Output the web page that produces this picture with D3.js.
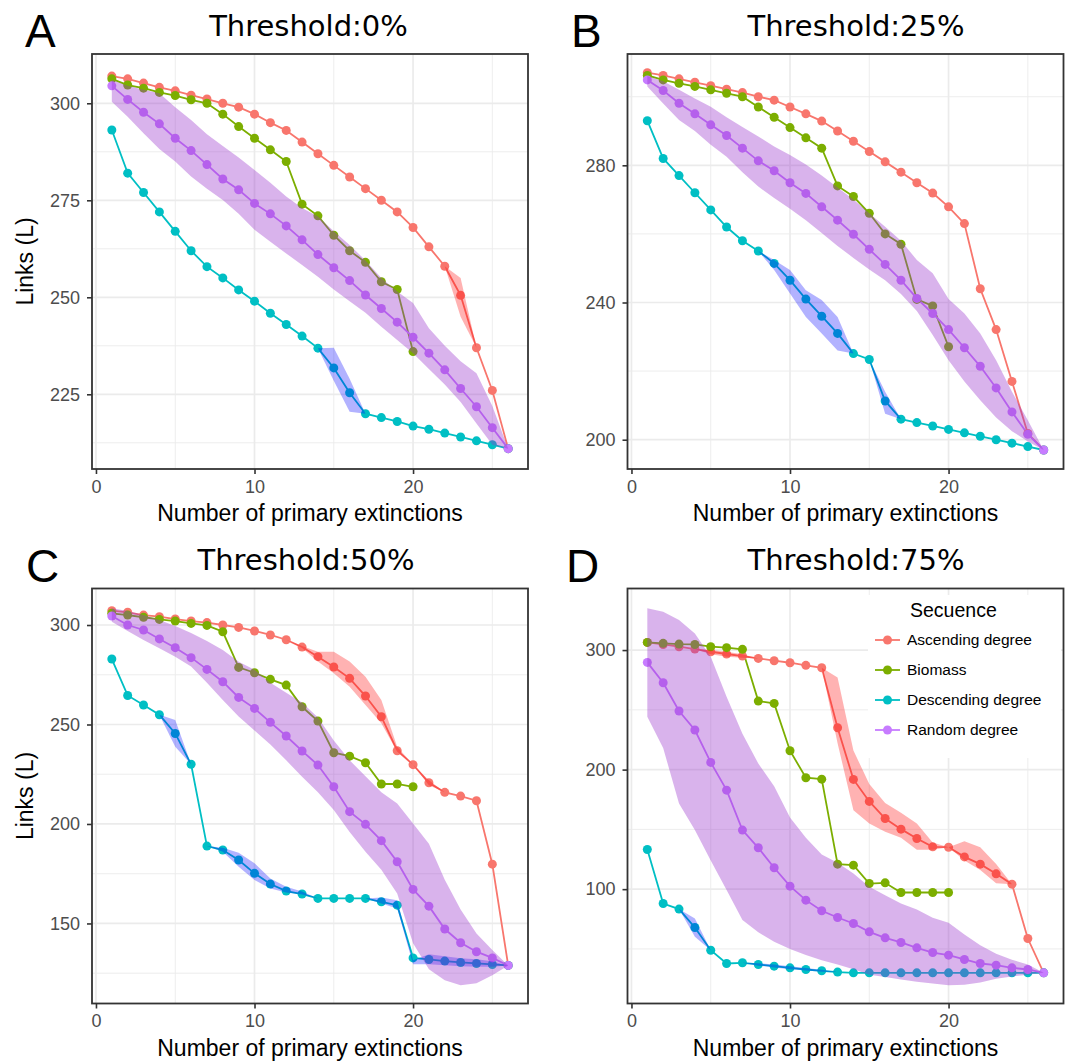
<!DOCTYPE html>
<html><head><meta charset="utf-8">
<script src="https://cdn.jsdelivr.net/npm/d3@7"></script>
<style>body{margin:0;background:#fff}</style>
</head><body>
<svg id="c" width="1073" height="1063"></svg>
<script>
// ---------------- DATA ----------------
const extinctions = [1,2,3,4,5,6,7,8,9,10,11,12,13,14,15,16,17,18,19,20,21,22,23,24,25,26];
const seriesNames = ["Ascending degree","Biomass","Descending degree","Random degree"];
const seriesColors = ["#F8766D","#7CAE00","#00BFC4","#C77CFF"];
const bandColors = ["#FF0000", null, "#0000FF", "#9932CC"];
const panelLetters = ["A","B","C","D"];
const panelTitles = ["Threshold:0%","Threshold:25%","Threshold:50%","Threshold:75%"];
const xTicks = [0,10,20];
const xMinor = [5,15,25];
const xDomain = [-0.25, 27.25];

// Panel A (threshold 0%)
const A_asc  = [307,306.3,305.2,304.1,303.2,302.1,301.1,300,299,297.2,295,293,290,287,284,281,278,275,272,268,263,258,250.5,237,226,211];
const A_bio  = [306.3,304.7,303.9,302.8,302,300.9,300,297.2,294,291,288,285,274,271,266,262,259,254,252,236];
const A_desc = [293.1,282,277,272,267,262,257.9,255,251.9,249,245.9,243,240,236.9,231.8,225.4,220,219,218,216.8,216,215,214,213,212,211];
const A_rnd  = [304.5,301,297.7,294.7,291,287.8,284.2,280.5,277.7,274.2,271.5,268.4,264.8,261,257.6,254.3,250.6,247.1,243.6,239.7,235.6,231.3,226.5,221.8,216.4,211];
const A_rndHi = [306,304.5,303.5,302.6,299,295.7,292,289,286,282.8,279.5,276,273,270.8,267,263.5,259.5,255,251.5,248.5,242,237.5,233.5,230.4,222,211];
const A_rndLo = [300.4,296.5,292.3,288.2,285,281.1,278,275.1,271.5,267.4,264.3,261.3,258.3,255.3,252,249,246,242.4,239,235.6,231.5,227.5,223,217.5,212,211];
const A_ascBand  = [[[22,258,258],[23,245,255],[24,237,237]]];
const A_descBand = [[[14,236.9,236.9],[15,228.5,237],[16,220.5,229],[17,220,220]]];
const A_yTicks = [225,250,275,300];
const A_yMinor = [212.5,237.5,262.5,287.5];
const A_yDomain = [205.75, 312.7];

// Panel B (threshold 25%)
const B_asc  = [307,306.2,305.2,304.2,303.2,302.2,301.2,300,299,297,295,292.9,290,287,284,281,278,274.9,271.9,267.9,263,244,232.1,217,201.8,197];
const B_bio  = [306.2,304.9,303.9,303,302,301,300,297,294,291,288,285,274,270.9,266,260,257,240.9,239,227.1];
const B_desc = [293,282,277,272,267,262,258,255,251.4,246.5,241,236,231,225.1,223.4,211.3,206,205,204,203,202,201,200,199,198,197];
const B_rnd  = [304.9,301.8,298.1,295,291.8,288.7,285,281.3,278.4,274.9,271.8,267.9,264,259.9,255.5,251.1,246.5,241.2,236.8,232.1,226.8,221.4,215.1,208.1,201.6,197];
const B_rndHi = [306,304.5,302,299.5,297.1,294,291.2,288.4,285.5,283,280.2,277,273.5,270,266,262.1,258,252.4,248.5,241,236.8,231,223.2,214,205.7,197];
const B_rndLo = [303,298,293.2,290,286,282.5,278,273.8,270.5,267.3,264,260.3,256.5,253,249.6,246.5,242.5,237.5,230.5,223.2,217,211.5,206.5,202.5,199.5,197];
const B_ascBand  = [];
const B_descBand = [[[8,255,255],[9,249.5,252.4],[10,242.6,249.5],[11,235.8,243.6],[12,231,240.7],[13,226,235.8],[14,225.1,225.1]],
                    [[15,223.4,223.4],[16,207.6,214],[17,206,206]]];
const B_yTicks = [200,240,280];
const B_yMinor = [220,260,300];
const B_yDomain = [191.46, 312.45];

// Panel C (threshold 50%)
const C_asc  = [307.2,306.4,305,304.2,303,302,301.2,300,298.8,297,295,292.6,288.9,284.1,278.9,273.2,264.3,253.9,236.8,229.8,220.7,215.9,214,211.7,179.8,128.9];
const C_bio  = [305.9,305,303.9,302.8,302,300.8,299.8,296.6,278.7,276,272.7,269.8,258.9,251.7,235.8,234.1,230.8,220.1,220.1,218.7];
const C_desc = [282.9,264.6,259.8,254.9,245.5,230,188.9,186.9,181.9,175.2,169.8,166.3,164.8,162.6,162.6,162.6,162.6,160.9,159.2,132.7,131.9,131.1,130.4,129.9,129.4,128.9];
const C_rnd  = [304.5,300,297.5,293,288.6,283.6,277.7,271.5,263.6,258.1,251.1,244.2,236.7,229.6,218.7,206.2,199.8,191.6,181,167.1,158.7,147.2,140.3,135.8,132.7,128.9];
const C_rndHi = [308.4,307,305,302.5,299.5,296,292,287.5,281.5,277.5,271,266,261,253.5,242,232,224,216,210.3,200.3,190,172,157,145,136.6,128.9];
const C_rndLo = [301.7,297,292.5,288.3,284,279.1,271,262.3,254,247,240,232,223.7,216,207,196,186,177,165,140,127,121.5,119,120,124,128.9];
const C_ascBand  = [[[12,292.6,292.6],[13,288.5,289.5],[14,281.6,286.5],[15,275.7,286.6],[16,269,281.6],[17,259.8,274],[18,250.6,262.3],[19,236.3,238.8],[20,229.8,229.8],[21,219.5,222],[22,215.9,215.9]]];
const C_descBand = [[[4,254.9,254.9],[5,238.8,252.2],[6,230,230]],
                    [[7,188.9,188.9],[8,186,188],[9,178.5,185.5],[10,171.8,180.2],[11,167.6,172.6],[12,165.5,168.4],[13,164.5,166],[14,162.6,162.6]],
                    [[17,162.6,162.6],[18,160,163.1],[19,157.5,161.7],[20,129.5,131.5],[21,129.5,134.5],[22,129,133.5],[23,128.5,132.5],[24,128.3,132],[25,128.2,131],[26,128.9,128.9]]];
const C_yTicks = [150,200,250,300];
const C_yMinor = [125,175,225,275];
const C_yDomain = [109.77, 318.35];

// Panel D (threshold 75%)
const D_asc  = [306.4,304.7,302.8,300.8,298.6,296.7,295,293,291.1,289.4,287.2,285.2,235,191.8,173.4,159.1,150.2,142.4,135.4,135.1,127,120.9,112.8,104.2,58.7,30];
const D_bio  = [306.4,305.6,305,304.7,302.8,302,300.6,257.3,255.4,215.8,193.2,192,120.9,120.1,104.7,105.3,97.2,97.2,97.2,97.2];
const D_desc = [133.2,88,83.3,67.9,48.9,37.8,38.4,37,35.6,34.2,32.8,31.7,30.6,30,30,30,30,30,30,30,30,30,30,30,30,30];
const D_rnd  = [289.7,272.7,249,233.1,206,182.8,149.4,134.6,117.9,102.5,90.8,81.9,76.3,71.3,64.3,59.3,55.4,50.9,47,44.8,41.2,37.8,36.4,34.2,32.8,30];
const D_rndHi = [334.9,332,325.1,313.9,294.4,261,230,205.2,186,160,143,129,122,113,102,95,88,83,76,72,62,53,46,41,37,30];
const D_rndLo = [244.2,218,171.7,149.4,124,99.2,74.1,64,56,50,45,40.6,37,33,28.5,26.6,24.5,22.5,21,19.6,20,22,25,27,28.5,30];
const D_ascBand  = [[[4,300.8,300.8],[5,296.5,300],[6,294.5,298.5],[7,293.5,296.5],[8,293,293]],
                    [[12,285.2,285.2],[13,222,277],[14,166,216],[15,155,188],[16,148,172],[17,143,164],[18,133,155],[19,133,139],[20,135.1,135.1],[21,124,140],[22,116,135],[23,105,121],[24,104.2,104.2]]];
const D_descBand = [[[3,83.3,83.3],[4,60.1,75.5],[5,48.9,48.9]],
                    [[7,38.4,38.4],[8,36,38],[9,34.5,37],[10,33,35.5],[11,32,34],[12,31,32.5],[13,30.6,30.6]]];
const D_yTicks = [100,200,300];
const D_yMinor = [50,150,250];
const D_yDomain = [4.35, 351.5];

// ---------------- LAYOUT ----------------
const FONT = "'Liberation Sans', Arial, Helvetica, sans-serif";
const TFONT = "'DejaVu Sans', sans-serif";
const PW = 436, PH = 415;
const layout = [
  {left:92,    top:54,    titleX:308.5, titleY:36,  letterX:25,  letterY:47,  ylab:true,  legend:false},
  {left:627.5, top:54,    titleX:856,   titleY:36,  letterX:571, letterY:47,  ylab:false, legend:false},
  {left:92,    top:588.5, titleX:306,   titleY:570, letterX:26,  letterY:582, ylab:true,  legend:false},
  {left:627.5, top:588.5, titleX:856,   titleY:570, letterX:566, letterY:582, ylab:false, legend:true}
];
const panels = [
  {series:[A_asc,A_bio,A_desc,A_rnd], bands:[A_ascBand,[],A_descBand], rndLo:A_rndLo, rndHi:A_rndHi, yTicks:A_yTicks, yMinor:A_yMinor, yDomain:A_yDomain},
  {series:[B_asc,B_bio,B_desc,B_rnd], bands:[B_ascBand,[],B_descBand], rndLo:B_rndLo, rndHi:B_rndHi, yTicks:B_yTicks, yMinor:B_yMinor, yDomain:B_yDomain},
  {series:[C_asc,C_bio,C_desc,C_rnd], bands:[C_ascBand,[],C_descBand], rndLo:C_rndLo, rndHi:C_rndHi, yTicks:C_yTicks, yMinor:C_yMinor, yDomain:C_yDomain},
  {series:[D_asc,D_bio,D_desc,D_rnd], bands:[D_ascBand,[],D_descBand], rndLo:D_rndLo, rndHi:D_rndHi, yTicks:D_yTicks, yMinor:D_yMinor, yDomain:D_yDomain}
];

const svg = d3.select("#c");
svg.append("rect").attr("width",1073).attr("height",1063).attr("fill","#fff");

function drawPanel(p, L, idx){
  const x = d3.scaleLinear().domain(xDomain).range([L.left, L.left+PW]);
  const y = d3.scaleLinear().domain(p.yDomain).range([L.top+PH, L.top]);
  const g = svg.append("g");

  // grid
  const grid = g.append("g");
  xMinor.forEach(v => grid.append("line").attr("x1",x(v)).attr("x2",x(v)).attr("y1",L.top).attr("y2",L.top+PH)
      .attr("stroke","#EBEBEB").attr("stroke-width",0.9));
  p.yMinor.forEach(v => grid.append("line").attr("y1",y(v)).attr("y2",y(v)).attr("x1",L.left).attr("x2",L.left+PW)
      .attr("stroke","#EBEBEB").attr("stroke-width",0.9));
  xTicks.forEach(v => grid.append("line").attr("x1",x(v)).attr("x2",x(v)).attr("y1",L.top).attr("y2",L.top+PH)
      .attr("stroke","#EBEBEB").attr("stroke-width",1.7));
  p.yTicks.forEach(v => grid.append("line").attr("y1",y(v)).attr("y2",y(v)).attr("x1",L.left).attr("x2",L.left+PW)
      .attr("stroke","#EBEBEB").attr("stroke-width",1.7));

  // lines
  const line = d3.line().x((d,i)=>x(extinctions[i])).y(d=>y(d));
  p.series.forEach((s,k) => {
    g.append("path").attr("d", line(s)).attr("fill","none").attr("stroke",seriesColors[k]).attr("stroke-width",1.8);
  });
  // points
  p.series.forEach((s,k) => {
    g.append("g").selectAll("circle").data(s).join("circle")
      .attr("cx",(d,i)=>x(extinctions[i])).attr("cy",d=>y(d)).attr("r",4.5).attr("fill",seriesColors[k]);
  });
  // ribbons
  const area = d3.area().x(d=>x(d[0])).y0(d=>y(d[1])).y1(d=>y(d[2]));
  p.bands.forEach((segs,k) => {
    segs.forEach(seg => {
      g.append("path").attr("d",area(seg)).attr("fill",bandColors[k]).attr("fill-opacity",0.3);
    });
  });
  const rndArea = d3.area().x((d,i)=>x(extinctions[i])).y0((d,i)=>y(p.rndLo[i])).y1((d,i)=>y(p.rndHi[i]));
  g.append("path").attr("d",rndArea(p.rndLo)).attr("fill",bandColors[3]).attr("fill-opacity",0.37);

  // border
  g.append("rect").attr("x",L.left).attr("y",L.top).attr("width",PW).attr("height",PH)
    .attr("fill","none").attr("stroke","#333333").attr("stroke-width",1.8);

  // axes
  const ax = g.append("g").attr("transform",`translate(0,${L.top+PH})`)
    .call(d3.axisBottom(x).tickValues(xTicks).tickSize(5).tickPadding(6).tickSizeOuter(0));
  const ay = g.append("g").attr("transform",`translate(${L.left},0)`)
    .call(d3.axisLeft(y).tickValues(p.yTicks).tickSize(5).tickPadding(7).tickSizeOuter(0));
  [ax, ay].forEach(a => {
    a.select(".domain").remove();
    a.selectAll(".tick line").attr("stroke","#333333").attr("stroke-width",1.6);
    a.selectAll(".tick text").attr("fill","#4D4D4D").style("font-family",FONT).style("font-size","18px");
  });

  // axis titles
  g.append("text").attr("x",L.left+PW/2).attr("y",L.top+PH+52).attr("text-anchor","middle")
    .style("font-family",FONT).style("font-size","23px").attr("fill","#000").text("Number of primary extinctions");
  if (L.ylab) {
    g.append("text").attr("transform",`translate(33,${L.top+PH/2}) rotate(-90)`).attr("text-anchor","middle")
      .style("font-family",FONT).style("font-size","23px").attr("fill","#000").text("Links (L)");
  }
  // title and letter
  g.append("text").attr("x",L.titleX).attr("y",L.titleY).attr("text-anchor","middle")
    .style("font-family",TFONT).style("font-size","29px").attr("fill","#000").text(panelTitles[idx]);
  g.append("text").attr("x",L.letterX).attr("y",L.letterY)
    .style("font-family",FONT).style("font-size","46px").attr("fill","#000").text(panelLetters[idx]);

  if (L.legend) {
    const lg = g.append("g");
    lg.append("rect").attr("x",868).attr("y",595).attr("width",193).attr("height",163).attr("fill","#fff");
    lg.append("text").attr("x",910).attr("y",617).style("font-family",FONT).style("font-size","19.5px")
      .attr("fill","#000").text("Secuence");
    seriesNames.forEach((n,k) => {
      const cy = 640 + k*30;
      lg.append("line").attr("x1",875).attr("x2",900).attr("y1",cy).attr("y2",cy)
        .attr("stroke",seriesColors[k]).attr("stroke-width",1.8);
      lg.append("circle").attr("cx",887.5).attr("cy",cy).attr("r",4.5).attr("fill",seriesColors[k]);
      lg.append("text").attr("x",907).attr("y",cy).attr("dy","0.35em").style("font-family",FONT)
        .style("font-size","15.5px").attr("fill","#000").text(n);
    });
  }
}

panels.forEach((p,i) => drawPanel(p, layout[i], i));
</script>
</body></html>
